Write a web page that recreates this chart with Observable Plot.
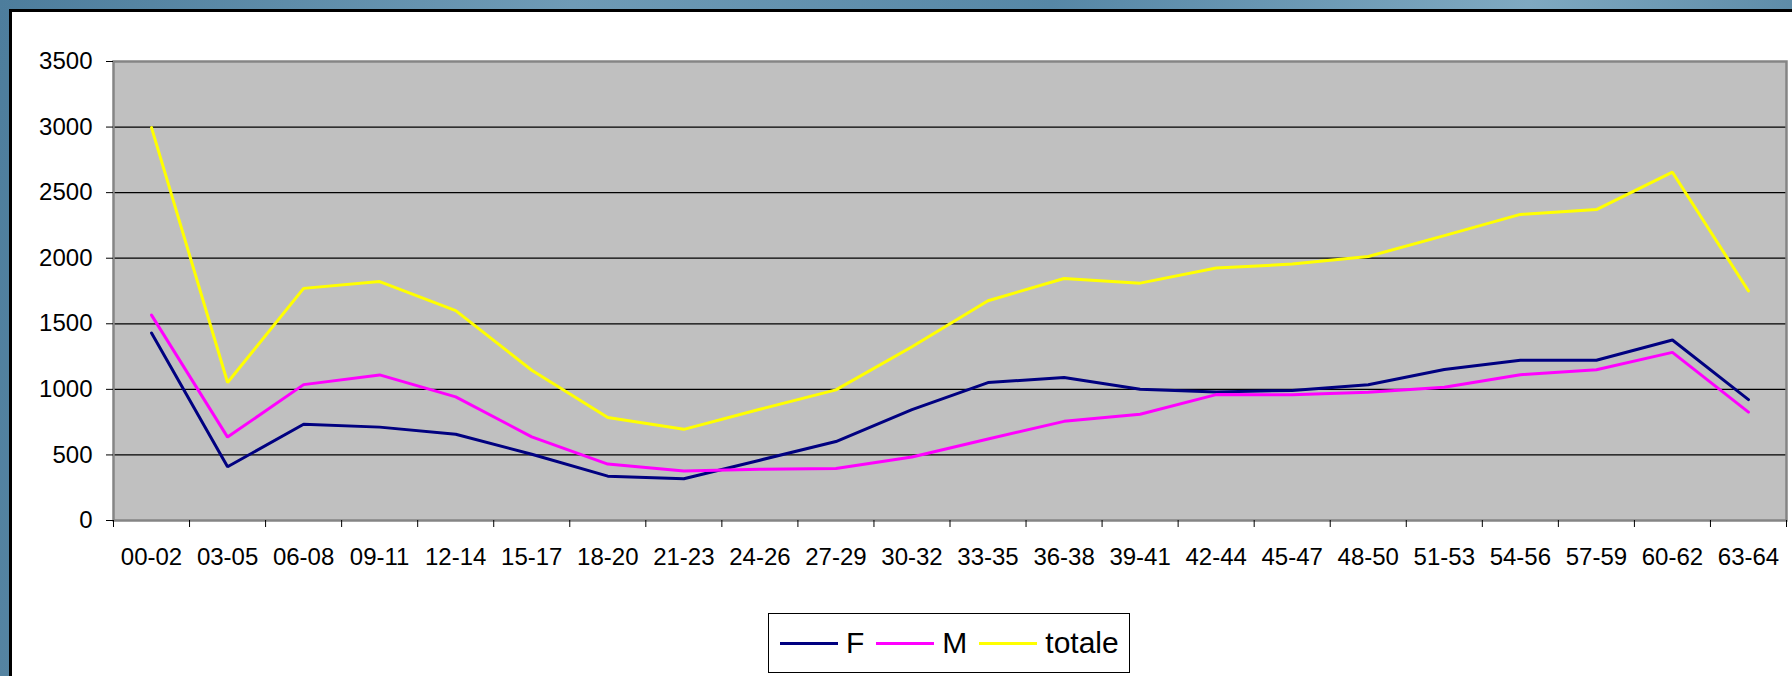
<!DOCTYPE html>
<html>
<head>
<meta charset="utf-8">
<script src="https://cdn.jsdelivr.net/npm/d3@7"></script>
<script src="https://cdn.jsdelivr.net/npm/@observablehq/plot@0.6"></script>
<style>
  html, body { margin: 0; padding: 0; }
  body {
    width: 1792px; height: 676px; overflow: hidden; position: relative;
    background: linear-gradient(100deg, #4d7d9c 0%, #6f9bb6 30%, #5687a6 55%, #7fa9c1 80%, #4f7f9d 100%);
    font-family: "Liberation Sans", Arial, sans-serif;
  }
  #panel {
    position: absolute; left: 9px; top: 9px; right: -5px; bottom: -5px;
    background: #fff; border-left: 3px solid #000; border-top: 3px solid #000;
  }
  #chart { position: absolute; left: 0; top: 0; }
  #legend {
    position: absolute; left: 768px; top: 613px; width: 360px; height: 58px;
    border: 1px solid #000; background: #fff;
    display: flex; align-items: center; font-size: 30px; color: #000;
    box-sizing: content-box;
  }
  .sw { display: inline-block; width: 58px; height: 3px; margin-right: 8px; }
  .item { display: flex; align-items: center; }
</style>
</head>
<body>
<div id="panel"></div>
<div id="chart"></div>
<div id="legend"></div>
<script>
const categories = ["00-02","03-05","06-08","09-11","12-14","15-17","18-20","21-23","24-26","27-29","30-32","33-35","36-38","39-41","42-44","45-47","48-50","51-53","54-56","57-59","60-62","63-64"];
const seriesNames = ["F", "M", "totale"];
const seriesColors = ["#000080", "#ff00ff", "#ffff00"];
const F = [1430, 410, 734, 712, 658, 505, 338, 318, 460, 602, 845, 1052, 1090, 1000, 980, 992, 1035, 1152, 1222, 1222, 1376, 922];
const M = [1566, 636, 1036, 1110, 943, 638, 430, 377, 390, 396, 484, 621, 756, 810, 960, 958, 978, 1016, 1112, 1150, 1282, 826];
const totale = [2996, 1052, 1770, 1822, 1600, 1146, 786, 695, 848, 996, 1325, 1676, 1845, 1810, 1925, 1955, 2013, 2172, 2334, 2371, 2656, 1750];
const yTicks = [0, 500, 1000, 1500, 2000, 2500, 3000, 3500];

const values = {F, M, totale};
const rows = [];
for (const s of seriesNames) values[s].forEach((v, i) => rows.push({i, series: s, value: v}));

const chart = Plot.plot({
  width: 1792,
  height: 590,
  marginLeft: 113,
  marginRight: 6,
  marginTop: 61,
  marginBottom: 70,
  style: {background: "transparent", fontFamily: "'Liberation Sans', Arial, sans-serif", color: "#000", overflow: "visible"},
  x: {type: "linear", domain: [-0.5, categories.length - 0.5]},
  y: {domain: [0, 3500]},
  color: {domain: seriesNames, range: seriesColors},
  marks: [
    Plot.frame({fill: "#c0c0c0", stroke: null}),
    Plot.ruleY(yTicks.filter(v => v > 0 && v < 3500), {y: d => d, stroke: "#000", strokeWidth: 1.3}),
    Plot.frame({stroke: "#858585", strokeWidth: 2.5}),
    Plot.axisY({ticks: yTicks, tickSize: 7, tickPadding: 14, fontSize: 24, label: null, tickFormat: d => String(d)}),
    Plot.axisX({ticks: d3.range(-0.5, categories.length, 1), tickSize: 7, tickFormat: () => "", label: null}),
    Plot.axisX({ticks: d3.range(categories.length), tickSize: 0, tickPadding: 27, fontSize: 24, label: null, tickFormat: i => categories[i]}),
    Plot.line(rows, {x: "i", y: "value", z: "series", stroke: "series", strokeWidth: 3, strokeLinejoin: "miter"})
  ]
});
document.getElementById("chart").appendChild(chart);

const legend = document.getElementById("legend");
seriesNames.forEach((s, k) => {
  const item = document.createElement("div");
  item.className = "item";
  item.style.marginLeft = k === 0 ? "11px" : "12px";
  const sw = document.createElement("span");
  sw.className = "sw";
  sw.style.background = seriesColors[k];
  const t = document.createElement("span");
  t.textContent = s;
  item.appendChild(sw);
  item.appendChild(t);
  legend.appendChild(item);
});
</script>
</body>
</html>
